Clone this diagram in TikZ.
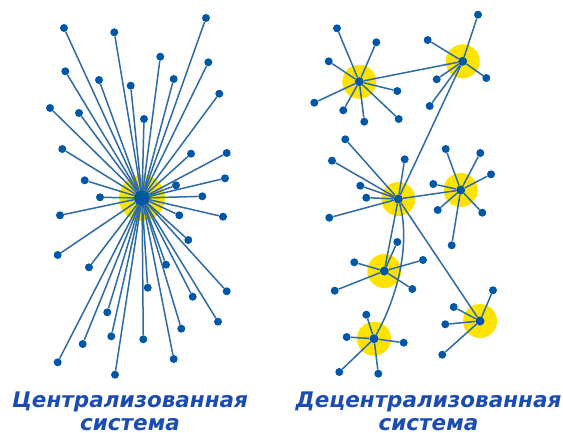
\documentclass[tikz,border=0pt]{standalone}
\usepackage{fontspec}
\newfontfamily\capfont{DejaVu Sans}
\definecolor{dotblue}{HTML}{0057A8}
\definecolor{lineblue}{HTML}{2E6AA6}
\definecolor{sunny}{HTML}{FFE300}
\definecolor{capblue}{HTML}{1C4BB2}

\begin{document}
\begin{tikzpicture}[x=1pt,y=-1pt,
    leaf/.style={circle,fill=dotblue,inner sep=0pt,minimum size=8pt},
    hub/.style={circle,fill=dotblue,inner sep=0pt,minimum size=9pt},
    link/.style={lineblue,line width=1.5pt},
    caption/.style={capblue,align=center,inner sep=0pt,
      font=\capfont\bfseries\itshape\fontsize{21.5}{22.5}\selectfont}]
  \useasboundingbox (0,0) rectangle (563,432);
  % 左：централизованная
  \coordinate (O) at (142,198);
  \fill[sunny] (O) circle (23pt);
  \node[hub,minimum size=16pt] (ctr) at (O) {};
  \foreach \x/\y [count=\i] in {64/28,114.3/32.3,206/18,160.3/56.7,208.3/62.3,
      65.3/71.3,99/80,130.7/85.7,173.7/79,219.3/93.7,50/108,79/113,144/119,
      62.3/149,191/153.7,226.7/153,84.7/180.3,176/185.3,225/178.3,100/197.3,
      202.3/196.3,60/215.3,179.3/215.3,223/216.7,188.3/240,57.7/255,89/267.3,
      166/264.7,226.7/291.3,147.7/287.7,192.7/296.7,107.3/312.3,218/321.7,
      181.3/328.7,82.7/344,111.3/336.3,143.3/339.3,57.7/362.3,173.7/359,115/374.7}
  {
    \node[leaf] (l\i) at (\x,\y) {};
    \draw[link] (ctr) -- (l\i);
  }
  % 右：七个中心
  \coordinate (pA) at (359.3,81.7);
  \coordinate (pB) at (462.7,61.3);
  \coordinate (pC) at (398.3,199);
  \coordinate (pD) at (460.7,190);
  \coordinate (pE) at (384.3,271);
  \coordinate (pF) at (374,338.7);
  \coordinate (pG) at (480,321);
  \foreach \p in {pA,pB,pC,pD,pE,pF,pG}
    \fill[sunny] (\p) circle (17pt);
  \node[hub] (A) at (pA) {};
  \node[hub] (B) at (pB) {};
  \node[hub] (C) at (pC) {};
  \node[hub] (D) at (pD) {};
  \node[hub] (E) at (pE) {};
  \node[hub] (F) at (pF) {};
  \node[hub] (G) at (pG) {};
  % 中心之间的连线
  \draw[link] (A) -- (B);
  \draw[link] (B) -- (C);
  \draw[link] (C) -- (D);
  \draw[link] (C) -- (E);
  \draw[link] (C) -- (G);
  \draw[link] (C) .. controls (410,240) and (400,292) .. (F);
  % 各中心的叶节点
  \foreach \x/\y [count=\i] in {337/28.3,376.3/42.3,328.7/61.3,314.3/102.7,
      343.3/110.3,364.3/121.7,398.7/119,397.3/91}
    {\node[leaf] (a\i) at (\x,\y) {}; \draw[link] (A) -- (a\i);}
  \foreach \x/\y [count=\i] in {478/14.7,427.7/40,436.7/79.3,486.3/78,429.7/106}
    {\node[leaf] (b\i) at (\x,\y) {}; \draw[link] (B) -- (b\i);}
  \foreach \x/\y [count=\i] in {345.3/139.3,332/160.7,404.7/159.3,360.3/185.7,
      366.3/197.7,329.3/217.7}
    {\node[leaf] (c\i) at (\x,\y) {}; \draw[link] (C) -- (c\i);}
  \foreach \x/\y [count=\i] in {445.7/149,480.3/153,491/174.3,433.3/184,
      437.7/210,482.3/212.7,451.7/245.3}
    {\node[leaf] (d\i) at (\x,\y) {}; \draw[link] (D) -- (d\i);}
  \foreach \x/\y [count=\i] in {397.3/242,354.3/262.3,423/260,334.7/290.7,412.3/289}
    {\node[leaf] (e\i) at (\x,\y) {}; \draw[link] (E) -- (e\i);}
  \foreach \x/\y [count=\i] in {366.3/314.7,346.7/337,403.7/342.7,339.3/372,378.3/373.7}
    {\node[leaf] (f\i) at (\x,\y) {}; \draw[link] (F) -- (f\i);}
  \foreach \x/\y [count=\i] in {493/290.3,453.7/307,445.3/324.3,442.3/354.7}
    {\node[leaf] (g\i) at (\x,\y) {}; \draw[link] (G) -- (g\i);}
  % 标题
  \node[caption,anchor=north] (capL) at (130,392) {Централизованная\\система};
  \node[caption,anchor=north] (capR) at (428.5,392) {Децентрализованная\\система};
\end{tikzpicture}
\end{document}
